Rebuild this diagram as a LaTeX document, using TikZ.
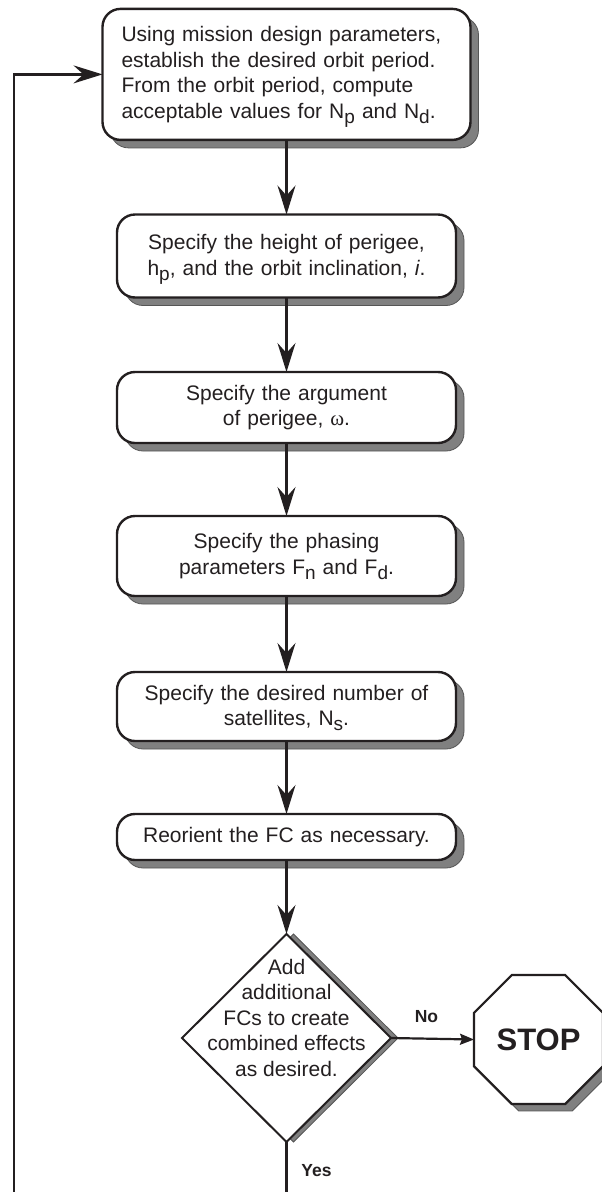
\documentclass[tikz,border=0pt]{standalone}
\usepackage{fontspec}
\setmainfont{Liberation Sans}
\newfontfamily\greekserif{Liberation Serif}
\usetikzlibrary{shapes.geometric,shadows,arrows.meta}

\definecolor{ink}{HTML}{231F20}
\definecolor{shade}{HTML}{808080}
\definecolor{shadeline}{HTML}{555555}

% lowered, slightly smaller letter used for N_p, F_n, h_p ...
\newcommand\lowsub[1]{\smash{\raisebox{-5pt}{\fontsize{19}{19}\selectfont #1}}}

\begin{document}
\begin{tikzpicture}[x=1pt,y=-1pt,
  every node/.style={font=\fontsize{21}{25.5}\selectfont, text=ink, outer sep=0pt},
  shadowed/.style={drop shadow={shadow xshift=#1, shadow yshift=-#1,
      fill=shade, draw=shadeline, line width=0.8pt, opacity=1}},
  procbox/.style={draw=ink, line width=2.4pt, fill=white, rounded corners=18pt,
      minimum width=339pt, text width=321pt, inner xsep=9pt, inner ysep=0pt,
      align=center, shadowed=8pt},
  flow/.style={draw=ink, line width=2.2pt,
      -{Stealth[length=29pt,width=18pt,inset=10pt]}},
  plain/.style={draw=ink, line width=2.2pt},
  lbl/.style={font=\bfseries\fontsize{17.5}{20}\selectfont, anchor=base}
]
\useasboundingbox (0,0) rectangle (602,1192);

% process steps
\node[procbox, minimum width=368pt, text width=330pt, inner xsep=19pt,
      align=left, minimum height=131pt] (b1) at (286.5,74.4)
  {Using mission design parameters,\\
   establish the desired orbit period.\\
   From the orbit period, compute\\
   acceptable values for N\lowsub{p} and N\lowsub{d}.};

\node[procbox, minimum height=83pt] (b2) at (286.5,256)
  {Specify the height of perigee,\\
   h\lowsub{p}, and the orbit inclination, \textit{i}.};

\node[procbox, minimum height=71pt] (b3) at (286.5,407.5)
  {Specify the argument\\
   of perigee, {\greekserif ω}.};

\node[procbox, minimum height=80pt] (b4) at (286.5,556)
  {Specify the phasing\\
   parameters F\lowsub{n} and F\lowsub{d}.};

\node[procbox, minimum height=69pt] (b5) at (286.5,706.5)
  {Specify the desired number of\\
   satellites, N\lowsub{s}.};

\node[procbox, minimum height=46pt] (b6) at (286.5,837)
  {Reorient the FC as necessary.};

% decision
\node[diamond, draw=ink, line width=2pt, fill=white, inner sep=0pt,
      minimum width=209pt, minimum height=208pt,
      drop shadow={shadow xshift=7pt, shadow yshift=0pt, fill=shade,
                   draw=shadeline, line width=0.8pt, opacity=1}]
  (dia) at (286.5,1038) {};
\node[align=center, inner sep=0pt] (ask) at (286.5,1017.7)
  {Add\\additional\\FCs to create\\combined effects\\as desired.};

% terminal
\node[regular polygon, regular polygon sides=8, draw=ink, line width=2.2pt,
      fill=white, inner sep=0pt, minimum size=139.6pt, shadowed=7pt,
      font=\bfseries\fontsize{31}{31}\selectfont]
  (stop) at (538.5,1039.5) {STOP};

% loose ends of the return loop
\coordinate (yesend) at (286.5,1192);
\coordinate (loopend) at (14,1192);

% connectors
\draw[flow] (b1) -- (b2);
\draw[flow] (b2) -- (b3);
\draw[flow] (b3) -- (b4);
\draw[flow] (b4) -- (b5);
\draw[flow] (b5) -- (b6);
\draw[flow] (b6) -- (dia);
\draw[plain, -{Stealth[length=14pt,width=11pt,inset=2pt]}] (dia.east) -- (stop.west);
\draw[plain] (dia.south) -- (yesend);
\draw[flow] (loopend) |- (b1.west);

% branch labels
\node[lbl] (no) at (426.5,1022.5) {No};
\node[lbl] (yes) at (316.5,1176) {Yes};
\end{tikzpicture}
\end{document}
